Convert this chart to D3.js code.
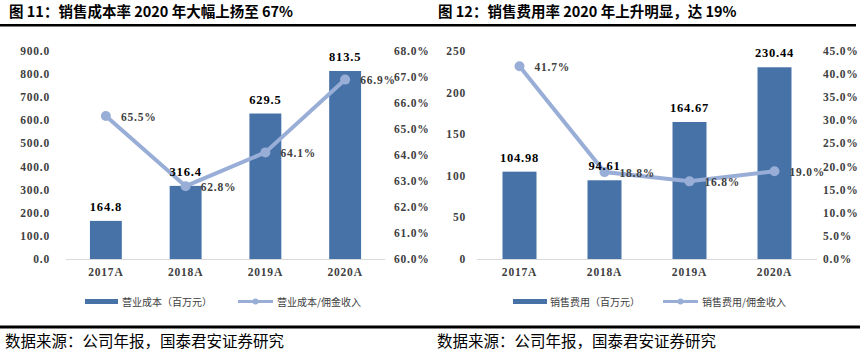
<!DOCTYPE html>
<html lang="zh">
<head>
<meta charset="UTF-8">
<title>销售成本率与销售费用率</title>
<script src="https://d3js.org/d3.v7.min.js"></script>
<style>
  body, html { margin: 0; padding: 0; background: #fff; overflow: hidden; }
  svg { display: block; }
  .num { font-family: "Liberation Serif", serif; font-weight: bold; letter-spacing: 0.8px; }
  .cjk { font-family: "Noto Sans CJK SC", sans-serif; }
</style>
</head>
<body>
<div id="chart"></div>
<script>
// data
var years = ["2017A", "2018A", "2019A", "2020A"];

var costValues = [164.8, 316.4, 629.5, 813.5];      // 营业成本（百万元）
var costRatio = [65.5, 62.8, 64.1, 66.9];           // 营业成本/佣金收入 %
var costLeftTicks = [0, 100, 200, 300, 400, 500, 600, 700, 800, 900];
var costRightTicks = [60, 61, 62, 63, 64, 65, 66, 67, 68];

var salesValues = [104.98, 94.61, 164.67, 230.44];  // 销售费用（百万元）
var salesRatio = [41.7, 18.8, 16.8, 19.0];          // 销售费用/佣金收入 %
var salesLeftTicks = [0, 50, 100, 150, 200, 250];
var salesRightTicks = [0, 5, 10, 15, 20, 25, 30, 35, 40, 45];

var barColor = "#4672a8";
var lineColor = "#99aed7";

var svg = d3.select("#chart").append("svg")
    .attr("width", 860)
    .attr("height", 353);

// title rule and footer rule
svg.append("rect").attr("x", 0).attr("y", 24).attr("width", 856).attr("height", 2.5).attr("fill", "#000");
svg.append("rect").attr("x", 0).attr("y", 325.5).attr("width", 860).attr("height", 3).attr("fill", "#000");

function drawPanel(opt) {
    var g = svg.append("g");

    g.append("text")
        .attr("class", "cjk")
        .attr("x", opt.titleX).attr("y", 17)
        .attr("font-size", 14.5).attr("font-weight", "bold")
        .attr("fill", "#000")
        .text(opt.title);

    g.append("text")
        .attr("class", "cjk")
        .attr("x", opt.sourceX).attr("y", 347)
        .attr("font-size", 15.5)
        .attr("fill", "#000")
        .text("数据来源：公司年报，国泰君安证券研究");

    var x = d3.scaleBand()
        .domain(years)
        .range(opt.xRange)
        .paddingInner(0.6)
        .paddingOuter(0.3);

    var yL = d3.scaleLinear().domain(opt.leftDomain).range([259, 51]);
    var yR = d3.scaleLinear().domain(opt.rightDomain).range([259, 51]);

    // left axis labels
    g.selectAll(".lt").data(opt.leftTicks).enter().append("text")
        .attr("class", "num")
        .attr("x", opt.leftLabelX)
        .attr("y", d => yL(d))
        .attr("dy", "0.35em")
        .attr("text-anchor", "end")
        .attr("font-size", 11.5)
        .attr("fill", "#404040")
        .text(opt.leftFmt);

    // right axis labels
    g.selectAll(".rt").data(opt.rightTicks).enter().append("text")
        .attr("class", "num")
        .attr("x", opt.rightLabelX)
        .attr("y", d => yR(d))
        .attr("dy", "0.35em")
        .attr("font-size", 11.5)
        .attr("fill", "#404040")
        .text(d => d.toFixed(1) + "%");

    // bars
    g.selectAll(".bar").data(opt.bars).enter().append("rect")
        .attr("x", (d, i) => x(years[i]))
        .attr("y", d => yL(d))
        .attr("width", x.bandwidth())
        .attr("height", d => yL(0) - yL(d))
        .attr("fill", barColor);

    // baseline
    g.append("line")
        .attr("x1", opt.xRange[0]).attr("x2", opt.xRange[1])
        .attr("y1", yL(0) + 0.5).attr("y2", yL(0) + 0.5)
        .attr("stroke", "#d9d9d9").attr("stroke-width", 1);

    // x labels
    g.selectAll(".xl").data(years).enter().append("text")
        .attr("class", "num")
        .attr("x", d => x(d) + x.bandwidth() / 2)
        .attr("y", 276)
        .attr("text-anchor", "middle")
        .attr("font-size", 11.5)
        .attr("fill", "#404040")
        .text(d => d);

    // ratio line
    var line = d3.line()
        .x((d, i) => x(years[i]) + x.bandwidth() / 2)
        .y(d => yR(d));

    g.append("path")
        .datum(opt.ratio)
        .attr("d", line)
        .attr("fill", "none")
        .attr("stroke", lineColor)
        .attr("stroke-width", 4);

    g.selectAll(".pt").data(opt.ratio).enter().append("circle")
        .attr("cx", (d, i) => x(years[i]) + x.bandwidth() / 2)
        .attr("cy", d => yR(d))
        .attr("r", 5)
        .attr("fill", lineColor);

    // bar value labels (on top of the line)
    g.selectAll(".bl").data(opt.bars).enter().append("text")
        .attr("class", "num")
        .attr("x", (d, i) => x(years[i]) + x.bandwidth() / 2)
        .attr("y", d => yL(d) - 10)
        .attr("text-anchor", "middle")
        .attr("font-size", 12.5)
        .attr("fill", "#000")
        .text(opt.barFmt);

    g.selectAll(".rl").data(opt.ratio).enter().append("text")
        .attr("class", "num")
        .attr("x", (d, i) => x(years[i]) + x.bandwidth() / 2 + 15)
        .attr("y", d => yR(d))
        .attr("dy", "0.4em")
        .attr("font-size", 11.5)
        .attr("fill", "#404040")
        .text(d => d.toFixed(1) + "%");

    // legend
    var lg = g.append("g").attr("class", "cjk");
    lg.append("rect")
        .attr("x", opt.legend[0]).attr("y", 299)
        .attr("width", opt.legend[1] - opt.legend[0]).attr("height", 5)
        .attr("fill", barColor);
    lg.append("text")
        .attr("x", opt.legend[2]).attr("y", 302).attr("dy", "0.35em")
        .attr("font-size", 10).attr("fill", "#404040")
        .text(opt.barName);
    lg.append("line")
        .attr("x1", opt.legend[3]).attr("x2", opt.legend[4])
        .attr("y1", 301.5).attr("y2", 301.5)
        .attr("stroke", lineColor).attr("stroke-width", 3);
    lg.append("circle")
        .attr("cx", (opt.legend[3] + opt.legend[4]) / 2).attr("cy", 301.5)
        .attr("r", 3).attr("fill", lineColor);
    lg.append("text")
        .attr("x", opt.legend[5]).attr("y", 302).attr("dy", "0.35em")
        .attr("font-size", 10).attr("fill", "#404040")
        .text(opt.lineName);
}

drawPanel({
    title: "图 11：销售成本率 2020 年大幅上扬至 67%",
    titleX: 9,
    sourceX: 5,
    xRange: [66, 385],
    leftDomain: [0, 900],
    rightDomain: [60, 68],
    leftTicks: costLeftTicks,
    rightTicks: costRightTicks,
    leftFmt: d => d.toFixed(1),
    leftLabelX: 50,
    rightLabelX: 394,
    bars: costValues,
    barFmt: d => d.toFixed(1),
    ratio: costRatio,
    barName: "营业成本（百万元）",
    lineName: "营业成本/佣金收入",
    legend: [85, 118, 122, 238, 273, 277]
});

drawPanel({
    title: "图 12：销售费用率 2020 年上升明显，达 19%",
    titleX: 438,
    sourceX: 437,
    xRange: [477, 817],
    leftDomain: [0, 250],
    rightDomain: [0, 45],
    leftTicks: salesLeftTicks,
    rightTicks: salesRightTicks,
    leftFmt: d => d,
    leftLabelX: 466,
    rightLabelX: 823,
    bars: salesValues,
    barFmt: d => d.toFixed(2),
    ratio: salesRatio,
    barName: "销售费用（百万元）",
    lineName: "销售费用/佣金收入",
    legend: [513, 547, 550, 663, 698, 702]
});
</script>
</body>
</html>
